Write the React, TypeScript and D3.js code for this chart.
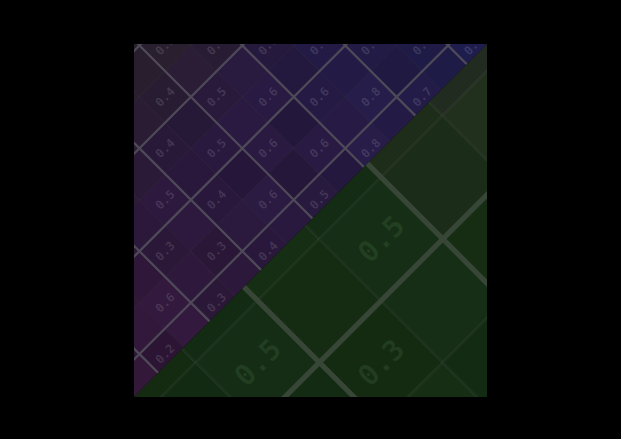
import { useEffect, useRef } from "react";
import * as d3 from "d3";

// Rotated value grid, shown twice: the full view in the upper-left triangle
// and a 2.4x magnified, green-tinted view in the lower-right triangle.
const ROWS = [0, 1, 2, 3, 4, 5, 6, 7];
const COLS = [0, 1, 2, 3, 4, 5, 6, 7, 8, 9, 10, 11, 12, 13];

const ROW_0 = [0.5, 0.5, 0.4, 0.5, 0.4, 0.5, 0.4, 0.5, 0.5, 0.6, 0.5, 0.6, 0.5, 0.6];
const ROW_1 = [0.4, 0.5, 0.5, 0.4, 0.5, 0.4, 0.4, 0.5, 0.5, 0.6, 0.6, 0.5, 0.6, 0.6];
const ROW_2 = [0.4, 0.3, 0.5, 0.4, 0.5, 0.4, 0.4, 0.5, 0.4, 0.5, 0.6, 0.6, 0.6, 0.7];
const ROW_3 = [0.3, 0.4, 0.4, 0.5, 0.4, 0.4, 0.3, 0.5, 0.6, 0.5, 0.4, 0.6, 0.5, 0.7];
const ROW_4 = [0.4, 0.3, 0.5, 0.4, 0.5, 0.4, 0.5, 0.6, 0.6, 0.4, 0.6, 0.5, 0.6, 0.6];
const ROW_5 = [0.5, 0.4, 0.4, 0.3, 0.5, 0.4, 0.3, 0.6, 0.3, 0.6, 0.6, 0.6, 0.4, 0.7];
const ROW_6 = [0.4, 0.5, 0.6, 0.5, 0.3, 0.5, 0.6, 0.3, 0.6, 0.7, 0.8, 0.5, 0.6, 0.7];
const ROW_7 = [0.5, 0.2, 0.6, 0.3, 0.4, 0.4, 0.5, 0.5, 0.4, 0.8, 0.6, 0.7, 0.6, 0.8];
const VALUES = [ROW_0, ROW_1, ROW_2, ROW_3, ROW_4, ROW_5, ROW_6, ROW_7];

type Cell = { r: number; c: number; v: number };

type View = {
  clip: string;
  tri: [number, number][];
  cell: number;
  x0: number;
  y0: number;
  color: (d: Cell) => string;
  line: string;
  lineWidth: number;
  fontSize: number;
  label: string;
};

const W = 621;
const H = 439;
const FRAME = { left: 134, top: 44, right: 487, bottom: 397 };

const clamp = (n: number) => Math.max(0, Math.min(1, n));

function purpleColor(d: Cell) {
  const tx = d.c / (COLS.length - 1);
  let base = d3.interpolateLab("#331839", "#1b1a45")(tx);
  const grey = clamp((3.5 - d.r) / 3);
  base = d3.interpolateLab(base, "#2a2228")(grey * 0.85);
  return d3.color(base)!.brighter((d.v - 0.5) * 1.1).formatHex();
}

function greenColor(d: Cell) {
  const tx = d.c / (COLS.length - 1);
  let base = d3.interpolateLab("#142c13", "#1b3419")(tx);
  const grey = clamp((d.c - 4) / 2) * clamp((5 - d.r) / 1.5);
  base = d3.interpolateLab(base, "#252e21")(grey);
  return d3.color(base)!.brighter((d.v - 0.5) * 1.1).formatHex();
}

function drawView(svg: d3.Selection<SVGSVGElement, unknown, null, undefined>, v: View) {
  const x = d3
    .scaleBand<number>()
    .domain(COLS)
    .range([v.x0, v.x0 + v.cell * COLS.length]);
  const y = d3
    .scaleBand<number>()
    .domain(ROWS)
    .range([v.y0, v.y0 + v.cell * ROWS.length]);

  const g = svg
    .append("g")
    .attr("clip-path", `url(#${v.clip})`)
    .append("g")
    .attr("transform", "rotate(-45)");

  const cells: Cell[] = VALUES.flatMap((row, r) => row.map((val, c) => ({ r, c, v: val })));

  g.selectAll("rect.cell")
    .data(cells)
    .join("rect")
    .attr("class", "cell")
    .attr("x", (d) => x(d.c)!)
    .attr("y", (d) => y(d.r)!)
    .attr("width", x.bandwidth())
    .attr("height", y.bandwidth())
    .attr("fill", (d) => v.color(d))
    .attr("stroke", "rgba(255,255,255,0.035)")
    .attr("stroke-width", v.cell / 30);

  // heavier rule every second row / column
  const [xa, xb] = x.range();
  const [ya, yb] = y.range();
  const oddCols = COLS.filter((c) => c % 2 === 1);
  const oddRows = ROWS.filter((r) => r % 2 === 1);
  g.selectAll("line.vx")
    .data(oddCols)
    .join("line")
    .attr("x1", (c) => x(c)!)
    .attr("x2", (c) => x(c)!)
    .attr("y1", ya)
    .attr("y2", yb)
    .attr("stroke", v.line)
    .attr("stroke-width", v.lineWidth);
  g.selectAll("line.hy")
    .data(oddRows)
    .join("line")
    .attr("x1", xa)
    .attr("x2", xb)
    .attr("y1", (r) => y(r)!)
    .attr("y2", (r) => y(r)!)
    .attr("stroke", v.line)
    .attr("stroke-width", v.lineWidth);

  // labels on alternate cells, only where the cell centre is on screen
  const cx = (d: Cell) => x(d.c)! + x.bandwidth() / 2;
  const cy = (d: Cell) => y(d.r)! + y.bandwidth() / 2;
  const onScreen = (d: Cell) => {
    const sx = (cx(d) + cy(d)) / Math.SQRT2;
    const sy = (cy(d) - cx(d)) / Math.SQRT2;
    return d3.polygonContains(v.tri, [sx, sy]);
  };
  g.selectAll("text")
    .data(cells.filter((d) => (d.r + d.c) % 2 === 0 && onScreen(d)))
    .join("text")
    .attr("x", cx)
    .attr("y", cy)
    .attr("text-anchor", "middle")
    .attr("dominant-baseline", "central")
    .attr("font-family", "'DejaVu Sans Mono', monospace")
    .attr("font-weight", "bold")
    .attr("font-size", v.fontSize)
    .attr("fill", v.label)
    .text((d) => d3.format(".1f")(d.v));
}

export default function App() {
  const ref = useRef<SVGSVGElement | null>(null);

  useEffect(() => {
    const svg = d3.select(ref.current!);
    svg.selectAll("*").remove();

    svg.append("rect").attr("width", W).attr("height", H).attr("fill", "#000");

    const { left, top, right, bottom } = FRAME;
    const upper: [number, number][] = [[left, top], [right, top], [left, bottom]];
    const lower: [number, number][] = [[right, top], [right, bottom], [left, bottom]];
    const defs = svg.append("defs");
    defs
      .append("clipPath")
      .attr("id", "upper")
      .append("polygon")
      .attr("points", upper.map((p) => p.join(",")).join(" "));
    defs
      .append("clipPath")
      .attr("id", "lower")
      .append("polygon")
      .attr("points", lower.map((p) => p.join(",")).join(" "));

    const cell = 36.37;
    drawView(svg, {
      clip: "upper",
      tri: upper,
      cell,
      x0: -188.15,
      y0: 94.4,
      color: purpleColor,
      line: "#4f4a58",
      lineWidth: 2.2,
      fontSize: 12,
      label: "rgba(255,255,255,0.13)",
    });

    const zoom = 2.4;
    drawView(svg, {
      clip: "lower",
      tri: lower,
      cell: cell * zoom,
      x0: -292.3,
      y0: 45.7,
      color: greenColor,
      line: "#374636",
      lineWidth: 2.2 * zoom,
      fontSize: 12 * zoom,
      label: "rgba(170,230,170,0.09)",
    });
  }, []);

  return (
    <svg
      ref={ref}
      width={W}
      height={H}
      style={{ position: "absolute", left: 0, top: 0, display: "block" }}
    />
  );
}
